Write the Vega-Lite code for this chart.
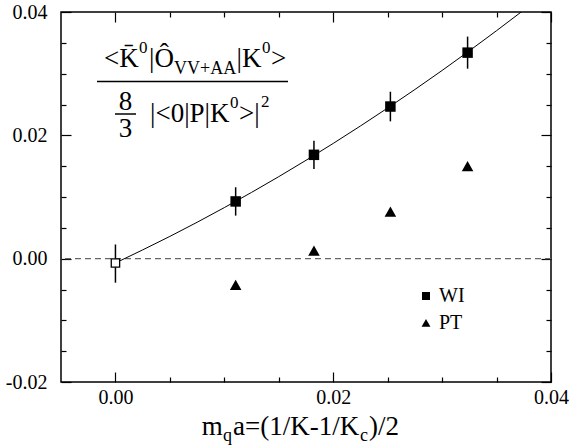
{
  "$schema": "https://vega.github.io/schema/vega-lite/v6.json",
  "width": 490,
  "height": 370,
  "autosize": {"type": "none"},
  "padding": {"left": 61, "top": 12, "right": 21, "bottom": 65},
  "config": {
    "view": {"stroke": "black", "strokeWidth": 1.5},
    "font": "Liberation Serif",
    "style": {"guide-label": {"font": "Liberation Serif", "fontSize": 20, "fill": "black"}},
    "axis": {"grid": false, "labelFont": "Liberation Serif", "labelFontSize": 20, "labelColor": "black", "tickColor": "black", "tickWidth": 1.2, "domain": false, "title": null, "labelFlush": false, "labelOverlap": false},
    "legend": {"labelFont": "Liberation Serif"},
    "text": {"font": "Liberation Serif", "color": "black"}
  },
  "datasets": {
    "pts": [
      {"x": 0.01104, "y": 0.00928, "series": "WI"},
      {"x": 0.01823, "y": 0.01684, "series": "WI"},
      {"x": 0.02525, "y": 0.02467, "series": "WI"},
      {"x": 0.03234, "y": 0.03341, "series": "WI"},
      {"x": 0.01104, "y": -0.00426, "series": "PT"},
      {"x": 0.01823, "y": 0.0013, "series": "PT"},
      {"x": 0.02525, "y": 0.0076, "series": "PT"},
      {"x": 0.03234, "y": 0.0150, "series": "PT"}
    ],
    "err": [
      {"x": 0, "lo": -0.0039, "hi": 0.0023},
      {"x": 0.01104, "lo": 0.00698, "hi": 0.01158},
      {"x": 0.01823, "lo": 0.01454, "hi": 0.01914},
      {"x": 0.02525, "lo": 0.02227, "hi": 0.02707},
      {"x": 0.03234, "lo": 0.03081, "hi": 0.03601}
    ],
    "extrap": [{"x": 0, "y": -0.0007}],
    "fit": [
      {"x": 0, "y": -0.0007},
      {"x": 0.005, "y": 0.00361},
      {"x": 0.01, "y": 0.00828},
      {"x": 0.015, "y": 0.0133},
      {"x": 0.02, "y": 0.01869},
      {"x": 0.025, "y": 0.02443},
      {"x": 0.03, "y": 0.03052},
      {"x": 0.035, "y": 0.03697},
      {"x": 0.0373, "y": 0.04005}
    ],
    "annMain": [
      {"x": -0.001051, "y": 0.031081, "t": "<K\u0304"},
      {"x": 0.003082, "y": 0.031081, "t": "|\u00d4"},
      {"x": 0.011117, "y": 0.031081, "t": "|K"},
      {"x": 0.014286, "y": 0.031081, "t": ">"},
      {"x": 0.000304, "y": 0.024108, "t": "8"},
      {"x": 0.000304, "y": 0.01973, "t": "3"},
      {"x": 0.003173, "y": 0.022211, "t": "|<0|P|K"},
      {"x": 0.011347, "y": 0.022211, "t": ">|"}
    ],
    "annSup": [
      {"x": 0.002163, "y": 0.033351, "t": "0"},
      {"x": 0.013459, "y": 0.033351, "t": "0"},
      {"x": 0.01052, "y": 0.024481, "t": "0"},
      {"x": 0.013367, "y": 0.024595, "t": "2"}
    ],
    "annSub": [
      {"x": 0.005378, "y": 0.029946, "t": "VV+AA"}
    ],
    "bars": [
      {"x": -0.001694, "x2": 0.015847, "y": 0.02873},
      {"x": -0.000041, "x2": 0.001888, "y": 0.023459}
    ],
    "titleMain": [
      {"x": 0.007921, "y": -0.028595, "t": "m"},
      {"x": 0.010796, "y": -0.028595, "t": "a=(1/K-1/K"},
      {"x": 0.023286, "y": -0.028595, "t": ")/2"}
    ],
    "titleSub": [
      {"x": 0.009878, "y": -0.029568, "t": "q"},
      {"x": 0.022459, "y": -0.029568, "t": "c"}
    ]
  },
  "resolve": {"axis": {"x": "independent", "y": "independent"}},
  "layer": [
    {
      "data": {"values": [{}]},
      "mark": {"type": "rule", "color": "#666666", "strokeDash": [6, 4], "strokeWidth": 1.2},
      "encoding": {
        "y": {"datum": 0, "type": "quantitative", "scale": {"domain": [-0.02, 0.04], "nice": false, "zero": false},
          "axis": {"orient": "left", "values": [-0.02, 0, 0.02, 0.04], "ticks": false, "labelPadding": 14,
            "labelFont": "Liberation Serif", "labelFontSize": 20,
            "labelExpr": "datum.value < 0 ? '-' + format(-datum.value, '.2f') : format(datum.value, '.2f')"}}
      }
    },
    {
      "data": {"name": "fit"},
      "mark": {"type": "line", "color": "black", "strokeWidth": 1, "clip": true, "interpolate": "monotone"},
      "encoding": {
        "x": {"field": "x", "type": "quantitative", "scale": {"domain": [-0.005, 0.04], "nice": false, "zero": false},
          "axis": {"orient": "bottom", "values": [0, 0.02, 0.04], "ticks": false, "labelPadding": 5,
            "labelFont": "Liberation Serif", "labelFontSize": 20,
            "labelExpr": "format(datum.value, '.2f')"}},
        "y": {"field": "y", "type": "quantitative", "scale": {"domain": [-0.02, 0.04], "nice": false, "zero": false},
          "axis": {"orient": "left", "values": [-0.02, 0, 0.02, 0.04], "labels": false, "tickSize": -10}}
      }
    },
    {
      "data": {"name": "err"},
      "mark": {"type": "rule", "color": "black", "strokeWidth": 1.5},
      "encoding": {
        "x": {"field": "x", "type": "quantitative", "scale": {"domain": [-0.005, 0.04], "nice": false, "zero": false},
          "axis": {"orient": "bottom", "values": [0, 0.02, 0.04], "labels": false, "tickSize": -10}},
        "y": {"field": "lo", "type": "quantitative", "scale": {"domain": [-0.02, 0.04], "nice": false, "zero": false},
          "axis": {"orient": "left", "values": [-0.015, -0.01, -0.005, 0.005, 0.01, 0.015, 0.025, 0.03, 0.035], "labels": false, "tickSize": -5}},
        "y2": {"field": "hi"}
      }
    },
    {
      "data": {"name": "pts"},
      "mark": {"type": "point", "filled": true, "color": "black", "opacity": 1, "size": 110},
      "encoding": {
        "x": {"field": "x", "type": "quantitative", "scale": {"domain": [-0.005, 0.04], "nice": false, "zero": false},
          "axis": {"orient": "bottom", "values": [0.005, 0.01, 0.015, 0.025, 0.03, 0.035], "labels": false, "tickSize": -5}},
        "y": {"field": "y", "type": "quantitative", "scale": {"domain": [-0.02, 0.04], "nice": false, "zero": false},
          "axis": {"orient": "right", "values": [-0.02, 0, 0.02, 0.04], "labels": false, "tickSize": -10}},
        "shape": {"field": "series", "type": "nominal",
          "scale": {"domain": ["WI", "PT"], "range": ["square", "M-1.1,0.95L0,-1L1.1,0.95Z"]},
          "legend": {"orient": "none", "legendX": 355, "legendY": 274, "title": null, "padding": 0,
            "labelFont": "Liberation Serif", "labelFontSize": 20, "labelColor": "black",
            "symbolSize": 65, "symbolFillColor": "black", "symbolStrokeColor": "black", "symbolStrokeWidth": 0,
            "rowPadding": 7, "labelOffset": 3}}
      }
    },
    {
      "data": {"name": "extrap"},
      "mark": {"type": "point", "shape": "square", "filled": true, "fill": "white", "stroke": "black", "strokeWidth": 1.3, "size": 70, "opacity": 1},
      "encoding": {
        "x": {"field": "x", "type": "quantitative", "scale": {"domain": [-0.005, 0.04], "nice": false, "zero": false},
          "axis": {"orient": "top", "values": [0, 0.02, 0.04], "labels": false, "tickSize": -10}},
        "y": {"field": "y", "type": "quantitative", "scale": {"domain": [-0.02, 0.04], "nice": false, "zero": false},
          "axis": {"orient": "right", "values": [-0.015, -0.01, -0.005, 0.005, 0.01, 0.015, 0.025, 0.03, 0.035], "labels": false, "tickSize": -5}}
      }
    },
    {
      "data": {"name": "titleMain"},
      "mark": {"type": "text", "align": "left", "baseline": "alphabetic", "fontSize": 27},
      "encoding": {
        "x": {"field": "x", "type": "quantitative", "scale": {"domain": [-0.005, 0.04], "nice": false, "zero": false},
          "axis": {"orient": "top", "values": [0.005, 0.01, 0.015, 0.025, 0.03, 0.035], "labels": false, "tickSize": -5}},
        "y": {"field": "y", "type": "quantitative", "scale": {"domain": [-0.02, 0.04], "nice": false, "zero": false}, "axis": null},
        "text": {"field": "t"}
      }
    },
    {
      "data": {"name": "titleSub"},
      "mark": {"type": "text", "align": "left", "baseline": "alphabetic", "fontSize": 18},
      "encoding": {
        "x": {"field": "x", "type": "quantitative", "scale": {"domain": [-0.005, 0.04], "nice": false, "zero": false}, "axis": null},
        "y": {"field": "y", "type": "quantitative", "scale": {"domain": [-0.02, 0.04], "nice": false, "zero": false}, "axis": null},
        "text": {"field": "t"}
      }
    },
    {
      "data": {"name": "annMain"},
      "mark": {"type": "text", "align": "left", "baseline": "alphabetic", "fontSize": 27},
      "encoding": {
        "x": {"field": "x", "type": "quantitative", "scale": {"domain": [-0.005, 0.04], "nice": false, "zero": false}, "axis": null},
        "y": {"field": "y", "type": "quantitative", "scale": {"domain": [-0.02, 0.04], "nice": false, "zero": false}, "axis": null},
        "text": {"field": "t"}
      }
    },
    {
      "data": {"name": "annSup"},
      "mark": {"type": "text", "align": "left", "baseline": "alphabetic", "fontSize": 17},
      "encoding": {
        "x": {"field": "x", "type": "quantitative", "scale": {"domain": [-0.005, 0.04], "nice": false, "zero": false}, "axis": null},
        "y": {"field": "y", "type": "quantitative", "scale": {"domain": [-0.02, 0.04], "nice": false, "zero": false}, "axis": null},
        "text": {"field": "t"}
      }
    },
    {
      "data": {"name": "annSub"},
      "mark": {"type": "text", "align": "left", "baseline": "alphabetic", "fontSize": 18},
      "encoding": {
        "x": {"field": "x", "type": "quantitative", "scale": {"domain": [-0.005, 0.04], "nice": false, "zero": false}, "axis": null},
        "y": {"field": "y", "type": "quantitative", "scale": {"domain": [-0.02, 0.04], "nice": false, "zero": false}, "axis": null},
        "text": {"field": "t"}
      }
    },
    {
      "data": {"name": "bars"},
      "mark": {"type": "rule", "color": "black", "strokeWidth": 1.5},
      "encoding": {
        "x": {"field": "x", "type": "quantitative", "scale": {"domain": [-0.005, 0.04], "nice": false, "zero": false}, "axis": null},
        "x2": {"field": "x2"},
        "y": {"field": "y", "type": "quantitative", "scale": {"domain": [-0.02, 0.04], "nice": false, "zero": false}, "axis": null}
      }
    }
  ]
}
